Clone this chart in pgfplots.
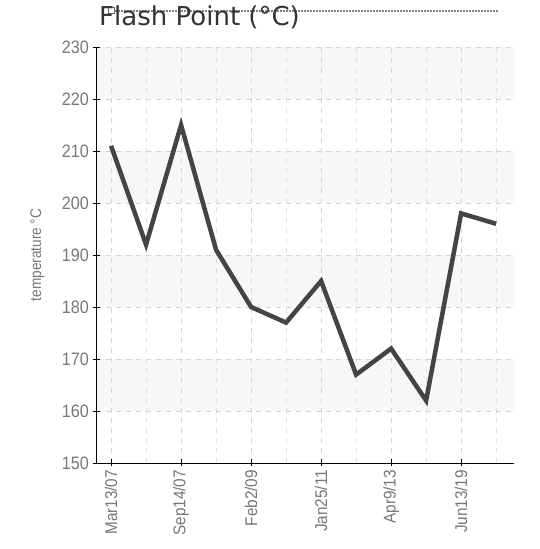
\documentclass[border=0pt]{standalone}
\usepackage{pgfplots}
\pgfplotsset{compat=1.18}
\usepackage{fontspec}
\setmainfont{Liberation Sans}
\newfontfamily\narrowfont[FakeStretch=0.9]{Liberation Sans}
\newfontfamily\labelfont[FakeStretch=0.88]{Liberation Sans}
\newfontfamily\titlefont{DejaVu Sans}
\definecolor{tickgray}{HTML}{777777}
\definecolor{linegray}{HTML}{444444}
\definecolor{bandgray}{HTML}{F7F7F7}
\definecolor{gridgray}{HTML}{D4D4D4}
\begin{document}
\begin{tikzpicture}
\begin{axis}[
  set layers,
  at={(96pt,86pt)}, anchor=south west,
  scale only axis, width=418pt, height=416pt,
  xmin=-0.43, xmax=11.51, ymin=150, ymax=230,
  axis lines=left, axis line style={-, line width=0.9pt, black},
  xtick={0,2,4,6,8,10},
  xticklabels={Mar13/07,Sep14/07,Feb2/09,Jan25/11,Apr9/13,Jun13/19},
  minor xtick={1,3,5,7,9,11},
  ytick={150,160,...,230},
  tick align=center, major tick length=7pt, minor tick length=0pt,
  tick style={black, line width=0.9pt},
  grid=both,
  major grid style={gridgray, dash pattern=on 5pt off 5pt, line width=0.8pt},
  minor grid style={gridgray!70, dash pattern=on 5pt off 5pt, line width=0.8pt},
  xticklabel style={rotate=90, anchor=east, text=tickgray, font=\narrowfont\fontsize{17}{17}\selectfont},
  yticklabel style={text=tickgray, font=\narrowfont\fontsize{18}{18}\selectfont},
  /pgf/number format/assume math mode=true,
  ylabel={temperature °C},
  ylabel style={text=tickgray, font=\labelfont\fontsize{15.5}{15.5}\selectfont, at={(axis description cs:-0.115,0.5)}},
]
\addplot[on layer=axis background, fill=bandgray, draw=none] coordinates {(-0.43,160) (11.51,160) (11.51,170) (-0.43,170)} -- cycle;
\addplot[on layer=axis background, fill=bandgray, draw=none] coordinates {(-0.43,180) (11.51,180) (11.51,190) (-0.43,190)} -- cycle;
\addplot[on layer=axis background, fill=bandgray, draw=none] coordinates {(-0.43,200) (11.51,200) (11.51,210) (-0.43,210)} -- cycle;
\addplot[on layer=axis background, fill=bandgray, draw=none] coordinates {(-0.43,220) (11.51,220) (11.51,230) (-0.43,230)} -- cycle;
\addplot[linegray, line width=4.5pt, line join=miter, mark=none] coordinates {
(0,211) (1,192) (2,215) (3,191) (4,180) (5,177) (6,185) (7,167) (8,172) (9,162) (10,198) (11,196)
};
\end{axis}
\draw[gray, line width=2.5pt, dash pattern=on 2pt off 1pt] (112pt,538pt) -- (498pt,538pt);
\draw[gray!80!black, line width=0.9pt, fill=white] (108pt,536pt) rectangle (114pt,542pt);
\node[anchor=north west, inner sep=0pt, text=black!80] at (99pt,543pt) {\titlefont\fontsize{26}{28}\selectfont Flash Point (°C)};
\path (0pt,0pt) rectangle (540pt,549pt);
\end{tikzpicture}
\end{document}
